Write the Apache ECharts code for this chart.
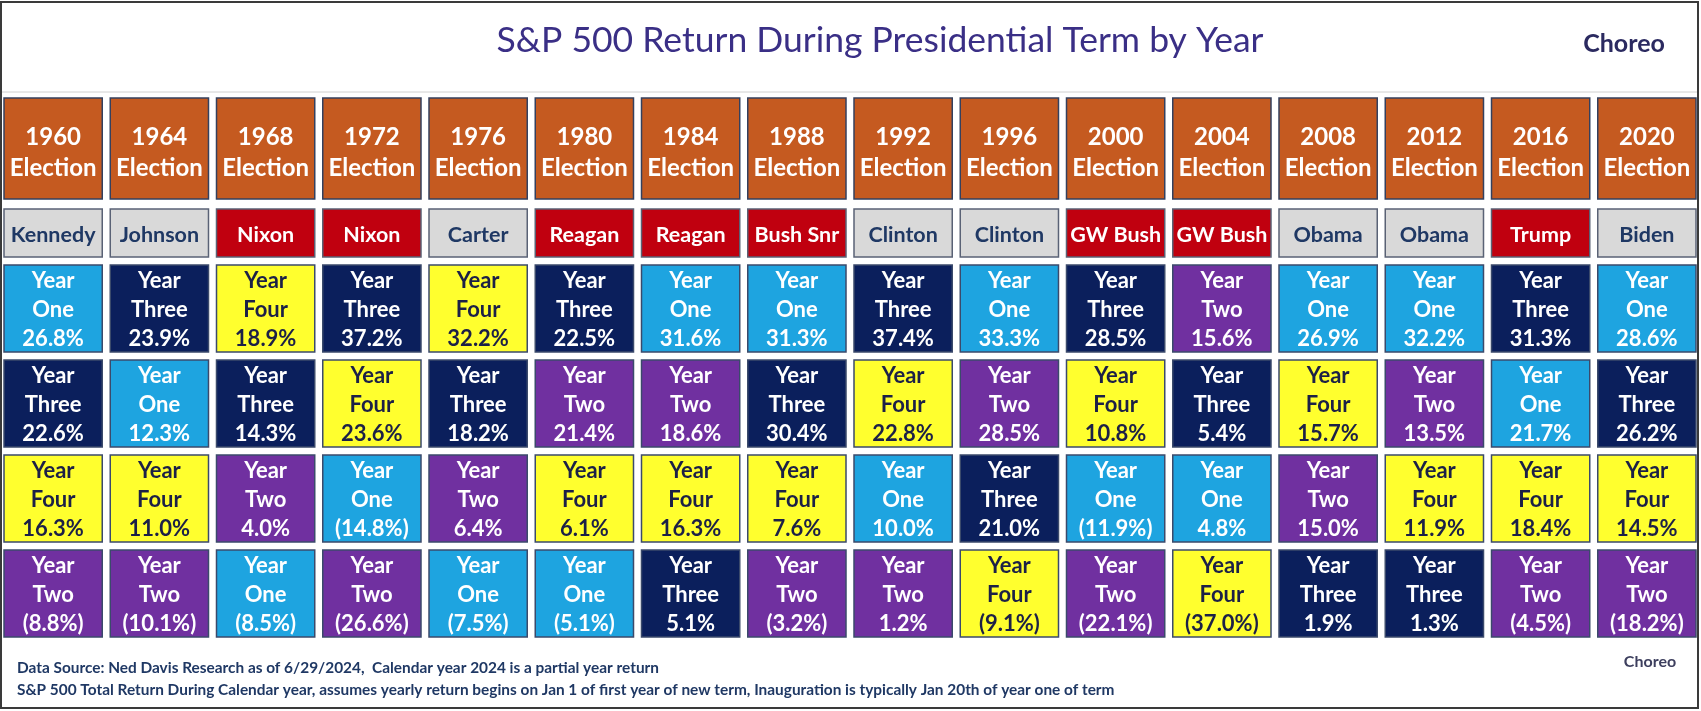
<!DOCTYPE html>
<html>
<head>
<meta charset="utf-8">
<script src="https://cdn.jsdelivr.net/npm/echarts@6/dist/echarts.min.js"></script>
<style>
  html, body { margin: 0; padding: 0; background: #fff; }
  #main { width: 1701px; height: 711px; }
</style>
</head>
<body>
<div id="main"></div>
<script>
// election columns
var elections = ['1960','1964','1968','1972','1976','1980','1984','1988','1992','1996','2000','2004','2008','2012','2016','2020'];
var presidents = ['Kennedy','Johnson','Nixon','Nixon','Carter','Reagan','Reagan','Bush Snr','Clinton','Clinton','GW Bush','GW Bush','Obama','Obama','Trump','Biden'];
var parties = ['D','D','R','R','D','R','R','R','D','D','R','R','D','D','R','D'];

// term year shown in each of the 4 rows (ranked best to worst), per column
var termYears = [
  [1,3,4,2],[3,1,4,2],[4,3,2,1],[3,4,1,2],
  [4,3,2,1],[3,2,4,1],[1,2,4,3],[1,3,4,2],
  [3,4,1,2],[1,2,3,4],[3,4,1,2],[2,3,1,4],
  [1,4,2,3],[1,2,4,3],[3,1,4,2],[1,3,4,2]
];
// S&P 500 return (%) matching termYears
var returns = [
  [26.8,22.6,16.3,-8.8],[23.9,12.3,11.0,-10.1],[18.9,14.3,4.0,-8.5],[37.2,23.6,-14.8,-26.6],
  [32.2,18.2,6.4,-7.5],[22.5,21.4,6.1,-5.1],[31.6,18.6,16.3,5.1],[31.3,30.4,7.6,-3.2],
  [37.4,22.8,10.0,1.2],[33.3,28.5,21.0,-9.1],[28.5,10.8,-11.9,-22.1],[15.6,5.4,4.8,-37.0],
  [26.9,15.7,15.0,1.9],[32.2,13.5,11.9,1.3],[31.3,21.7,18.4,-4.5],[28.6,26.2,14.5,-18.2]
];
var rowNames = ['r1','r2','r3','r4'];

var yearWords = {1:'One',2:'Two',3:'Three',4:'Four'};
var yearFill = {1:'#1ea4e0',2:'#7030a0',3:'#0b1f5c',4:'#ffff2e'};
var yearText = {1:'#ffffff',2:'#ffffff',3:'#ffffff',4:'#1c2047'};
var FONT = 'Lato, "Open Sans", sans-serif';
var GAP = 8;

function fmt(v){
  var s = Math.abs(v).toFixed(1) + '%';
  return v < 0 ? '(' + s + ')' : s;
}

var dataItems = [];
for (var c = 0; c < elections.length; c++) {
  for (var r = 0; r < 4; r++) {
    dataItems.push([c, r, termYears[c][r], returns[c][r]]);
  }
}

function cellRect(api, vgap){
  var p = api.coord([api.value(0), api.value(1)]);
  var s = api.size([1, 1]);
  var w = s[0] - GAP, h = s[1] - vgap;
  return {x: p[0] - w / 2, y: p[1] - h / 2, width: w, height: h, cx: p[0], cy: p[1]};
}

var chart = echarts.init(document.getElementById('main'));
var option = {
  animation: false,
  backgroundColor: '#ffffff',
  grid: [
    {left: 0, width: 1700, top: 98, height: 101},
    {left: 0, width: 1700, top: 209, height: 48},
    {left: 0, width: 1700, top: 261, height: 380}
  ],
  xAxis: [0,1,2].map(function(i){
    return {type: 'category', gridIndex: i, data: elections, show: false};
  }),
  yAxis: [
    {type: 'category', gridIndex: 0, data: ['h'], show: false},
    {type: 'category', gridIndex: 1, data: ['n'], show: false},
    {type: 'category', gridIndex: 2, data: rowNames, inverse: true, show: false}
  ],
  graphic: [
    {type: 'rect', shape: {x: 1, y: 2, width: 1697, height: 706}, style: {fill: 'none', stroke: '#3a3a3a', lineWidth: 2}, z: 100},
    {type: 'line', shape: {x1: 2, y1: 92, x2: 1698, y2: 92}, style: {stroke: '#d0d0d0', lineWidth: 1}},
    {type: 'text', x: 880, y: 41, style: {text: 'S&P 500 Return During Presidential Term by Year', fill: '#3a2f86', font: '35.5px ' + FONT, align: 'center', verticalAlign: 'middle'}},
    {type: 'text', x: 1624, y: 44, style: {text: 'Choreo', fill: '#2b2a60', font: 'bold 25px ' + FONT, align: 'center', verticalAlign: 'middle'}},
    {type: 'text', x: 1650, y: 662, style: {text: 'Choreo', fill: '#3d3f5e', font: 'bold 16px ' + FONT, align: 'center', verticalAlign: 'middle'}},
    {type: 'text', x: 17, y: 668, style: {text: 'Data Source: Ned Davis Research as of 6/29/2024,  Calendar year 2024 is a partial year return', fill: '#1f3864', font: 'bold 15.4px ' + FONT, verticalAlign: 'middle'}},
    {type: 'text', x: 17, y: 690, style: {text: 'S&P 500 Total Return During Calendar year, assumes yearly return begins on Jan 1 of first year of new term, Inauguration is typically Jan 20th of year one of term', fill: '#1f3864', font: 'bold 15.4px ' + FONT, verticalAlign: 'middle'}}
  ],
  series: [
    {
      type: 'custom', xAxisIndex: 0, yAxisIndex: 0,
      data: elections.map(function(e, i){ return [i, 0]; }),
      renderItem: function(params, api){
        var b = cellRect(api, 0);
        var i = api.value(0);
        return {type: 'group', children: [
          {type: 'rect', shape: {x: b.x, y: b.y, width: b.width, height: b.height}, style: {fill: '#c55a20', stroke: '#34405e', lineWidth: 1.5}},
          {type: 'text', style: {text: elections[i] + '\nElection', x: b.cx, y: b.cy + 4, fill: '#ffffff', font: 'bold 24px ' + FONT, lineHeight: 31, align: 'center', verticalAlign: 'middle'}}
        ]};
      }
    },
    {
      type: 'custom', xAxisIndex: 1, yAxisIndex: 1,
      data: presidents.map(function(p, i){ return [i, 0]; }),
      renderItem: function(params, api){
        var b = cellRect(api, 0);
        var i = api.value(0);
        var red = parties[i] === 'R';
        return {type: 'group', children: [
          {type: 'rect', shape: {x: b.x, y: b.y, width: b.width, height: b.height}, style: {fill: red ? '#c0000f' : '#d9d9d9', stroke: '#5a6275', lineWidth: 1.5}},
          {type: 'text', style: {text: presidents[i], x: b.cx, y: b.cy + 2, fill: red ? '#ffffff' : '#1f3864', font: 'bold 21.5px ' + FONT, align: 'center', verticalAlign: 'middle'}}
        ]};
      }
    },
    {
      type: 'custom', xAxisIndex: 2, yAxisIndex: 2,
      data: dataItems,
      renderItem: function(params, api){
        var b = cellRect(api, GAP);
        var yr = api.value(2), v = api.value(3);
        return {type: 'group', children: [
          {type: 'rect', shape: {x: b.x, y: b.y, width: b.width, height: b.height}, style: {fill: yearFill[yr], stroke: '#3b4a6b', lineWidth: 1.5}},
          {type: 'text', style: {text: 'Year\n' + yearWords[yr] + '\n' + fmt(v), x: b.cx, y: b.cy + 1, fill: yearText[yr], font: 'bold 22px ' + FONT, lineHeight: 29, align: 'center', verticalAlign: 'middle'}}
        ]};
      }
    }
  ]
};
chart.setOption(option);
</script>
</body>
</html>
